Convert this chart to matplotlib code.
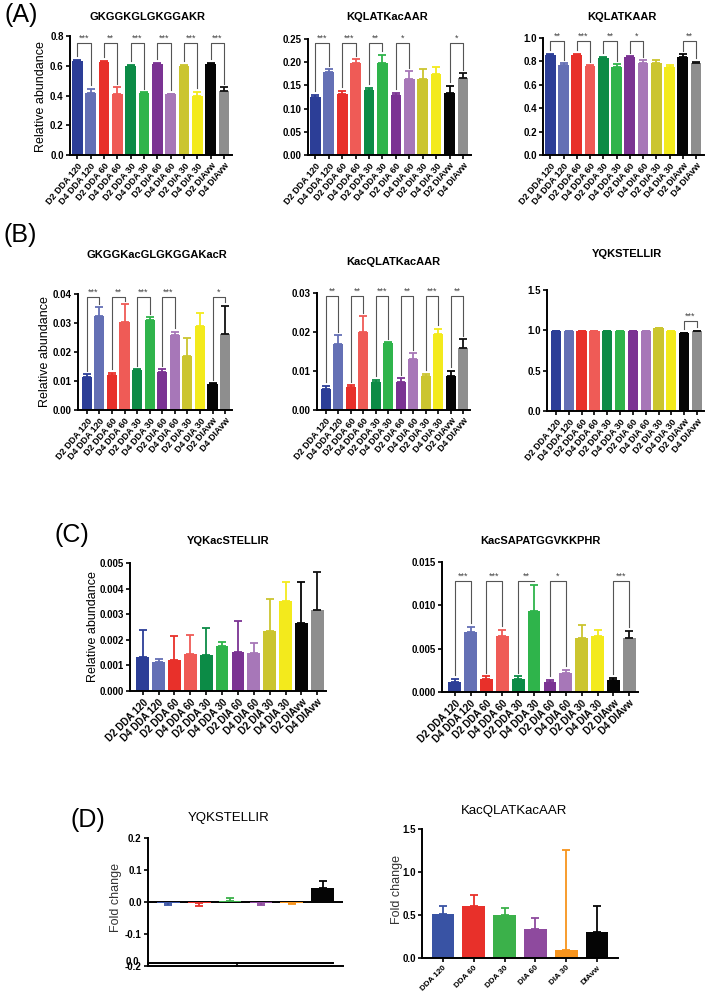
import matplotlib
matplotlib.use("Agg")
import matplotlib.pyplot as plt

plt.rcParams['font.family'] = ['Liberation Sans', 'DejaVu Sans']

# ---- data ----------------------------------------------------------------
samples = ["D2 DDA 120", "D4 DDA 120", "D2 DDA 60", "D4 DDA 60", "D2 DDA 30",
           "D4 DDA 30", "D2 DIA 60", "D4 DIA 60", "D2 DIA 30", "D4 DIA 30",
           "D2 DIAvw", "D4 DIAvw"]
methods = ["DDA 120", "DDA 60", "DDA 30", "DIA 60", "DIA 30", "DIAvw"]

a1_vals = [0.635, 0.42, 0.625, 0.41, 0.60, 0.42, 0.61, 0.41, 0.60, 0.395, 0.615, 0.43]
a1_sd = [0.005, 0.025, 0.01, 0.045, 0.005, 0.002, 0.01, 0.002, 0.005, 0.03, 0.005, 0.025]
a2_vals = [0.125, 0.178, 0.131, 0.199, 0.140, 0.199, 0.129, 0.163, 0.164, 0.174, 0.133, 0.165]
a2_sd = [0.005, 0.007, 0.007, 0.007, 0.005, 0.017, 0.005, 0.017, 0.022, 0.015, 0.016, 0.011]
a3_vals = [0.855, 0.77, 0.855, 0.76, 0.83, 0.755, 0.835, 0.79, 0.79, 0.755, 0.84, 0.79]
a3_sd = [0.01, 0.015, 0.01, 0.005, 0.01, 0.02, 0.008, 0.02, 0.02, 0.01, 0.02, 0.005]

b1_vals = [0.0115, 0.0325, 0.012, 0.0305, 0.0138, 0.031, 0.013, 0.026, 0.0185, 0.029, 0.009, 0.0263]
b1_sd = [0.0008, 0.003, 0.0008, 0.006, 0.0003, 0.001, 0.001, 0.001, 0.0065, 0.0043, 0.0003, 0.0097]
b2_vals = [0.0055, 0.017, 0.0059, 0.020, 0.0071, 0.0172, 0.0073, 0.013, 0.0086, 0.0194, 0.0088, 0.016]
b2_sd = [0.0007, 0.0022, 0.0005, 0.004, 0.0007, 0.0002, 0.0009, 0.0015, 0.0007, 0.0014, 0.0013, 0.0022]
b3_vals = [0.99, 0.99, 0.99, 0.99, 0.99, 0.99, 0.99, 0.99, 1.025, 0.99, 0.965, 0.99]
b3_sd = [0.005, 0.004, 0.005, 0.004, 0.005, 0.005, 0.004, 0.004, 0.003, 0.003, 0.005, 0.005]

c1_vals = [0.00132, 0.00112, 0.0012, 0.00143, 0.00141, 0.00174, 0.00152, 0.0015,
           0.00235, 0.00353, 0.00265, 0.00316]
c1_sd = [0.00107, 0.00013, 0.00093, 0.00077, 0.00104, 0.00016, 0.00123, 0.00038,
         0.00125, 0.00073, 0.0016, 0.0015]
c2_vals = [0.0012, 0.0069, 0.0015, 0.0065, 0.0015, 0.0094, 0.0011, 0.0022, 0.0062, 0.0065, 0.0014, 0.0062]
c2_sd = [0.0003, 0.0006, 0.0003, 0.0007, 0.0003, 0.003, 0.0003, 0.0003, 0.0015, 0.0006, 0.0002, 0.0008]

d1_vals = [-0.003, -0.003, 0.003, -0.003, -0.003, 0.045]
d1_sd = [0.007, 0.009, 0.009, 0.007, 0.002, 0.02]
d2_vals = [0.51, 0.60, 0.50, 0.34, 0.09, 0.30]
d2_sd = [0.09, 0.13, 0.08, 0.13, 1.17, 0.30]

a1_sig = [(0, 1, "***"), (2, 3, "**"), (4, 5, "***"), (6, 7, "***"), (8, 9, "***"), (10, 11, "***")]
a2_sig = [(0, 1, "***"), (2, 3, "***"), (4, 5, "**"), (6, 7, "*"), (10, 11, "*")]
a3_sig = [(0, 1, "**"), (2, 3, "***"), (4, 5, "**"), (6, 7, "*"), (10, 11, "**")]
b1_sig = [(0, 1, "***"), (2, 3, "**"), (4, 5, "***"), (6, 7, "***"), (10, 11, "*")]
b2_sig = [(0, 1, "**"), (2, 3, "**"), (4, 5, "***"), (6, 7, "**"), (8, 9, "***"), (10, 11, "**")]
b3_sig = [(10, 11, "***")]
c2_sig = [(0, 1, "***"), (2, 3, "***"), (4, 5, "**"), (6, 7, "*"), (10, 11, "***")]

colors12 = ["#2c3e97", "#6470b5", "#e8302a", "#ef5b56", "#0c8b46", "#2fb44b",
            "#7b3393", "#a777b8", "#cbc52f", "#f3ea1c", "#050505", "#8e8e8e"]
ecols12 = colors12[:11] + ["#111111"]
colors6 = ["#3953a4", "#e8302a", "#3bb14a", "#8e4a9e", "#f7941d", "#050505"]

W, H = 709, 993
fig = plt.figure(figsize=(W / 100, H / 100), dpi=100)


def px_axes(x0, y0, x1, y1):
    return fig.add_axes([x0 / W, 1 - y1 / H, (x1 - x0) / W, (y1 - y0) / H])


def ftext(x, y, s, **kw):
    fig.text(x / W, 1 - y / H, s, ha="center", va="center", **kw)


def bar_panel(ax, vals, sd, cols, ecols, ylim, yticks, yfmt, xlim, width=0.8,
              labels=None, lsize=6.5, rot=50, sig=None, sig_top=None):
    x = list(range(len(vals)))
    ax.bar(x, vals, width=width, color=cols, zorder=2)
    for i, (v, s) in enumerate(zip(vals, sd)):
        lo, hi = (s, 0) if v < 0 else (0, s)
        ax.errorbar(i, v, yerr=[[lo], [hi]], fmt="none", ecolor=ecols[i],
                    elinewidth=1.3, capsize=2.6, capthick=1.3, zorder=3)
    ax.set_xlim(*xlim)
    ax.set_ylim(*ylim)
    ax.set_yticks(yticks)
    ax.set_yticklabels([yfmt.format(t) for t in yticks], fontweight="bold", fontsize=7)
    if labels is not None:
        ax.set_xticks(x)
        ax.set_xticklabels(labels, rotation=rot, ha="right", rotation_mode="anchor",
                           fontweight="bold", fontsize=lsize)
    else:
        ax.set_xticks([])
    for side in ("top", "right"):
        ax.spines[side].set_visible(False)
    for side in ("left", "bottom"):
        ax.spines[side].set_linewidth(1.4)
    ax.tick_params(direction="out", length=3, width=1.2, pad=1.5)
    if sig:
        gap = 0.03 * ylim[1]
        for i, j, lab in sig:
            yi = vals[i] + sd[i] + gap
            yj = vals[j] + sd[j] + gap
            ax.plot([i, i, j, j], [yi, sig_top, sig_top, yj], color="#555555",
                    lw=0.8, clip_on=False, zorder=4)
            ax.text((i + j) / 2, sig_top, lab, ha="center", va="bottom",
                    fontsize=6.5, color="#444444", clip_on=False)


# ---- panel A ------------------------------------------------------------
ax = px_axes(70, 36, 232, 155)
bar_panel(ax, a1_vals, a1_sd, colors12, ecols12, (0, 0.8), [0, 0.2, 0.4, 0.6, 0.8],
          "{:.1f}", (-0.55, 11.6), labels=samples, sig=a1_sig, sig_top=0.755)
ax = px_axes(308, 39, 471, 155)
bar_panel(ax, a2_vals, a2_sd, colors12, ecols12, (0, 0.25),
          [0, 0.05, 0.10, 0.15, 0.20, 0.25], "{:.2f}", (-0.55, 11.6),
          labels=samples, sig=a2_sig, sig_top=0.241)
ax = px_axes(543, 38, 704, 155)
bar_panel(ax, a3_vals, a3_sd, colors12, ecols12, (0, 1.0), [0, 0.2, 0.4, 0.6, 0.8, 1.0],
          "{:.1f}", (-0.55, 11.6), labels=samples, sig=a3_sig, sig_top=0.975)

# ---- panel B ------------------------------------------------------------
ax = px_axes(78, 294, 232, 410)
bar_panel(ax, b1_vals, b1_sd, colors12, ecols12, (0, 0.04),
          [0, 0.01, 0.02, 0.03, 0.04], "{:.2f}", (-0.7, 11.55),
          labels=samples, sig=b1_sig, sig_top=0.039)
ax = px_axes(317, 293, 470, 410)
bar_panel(ax, b2_vals, b2_sd, colors12, ecols12, (0, 0.03),
          [0, 0.01, 0.02, 0.03], "{:.2f}", (-0.7, 11.55),
          labels=samples, sig=b2_sig, sig_top=0.0292)
ax = px_axes(547, 290, 704, 411)
bar_panel(ax, b3_vals, b3_sd, colors12, ecols12, (0, 1.5),
          [0, 0.5, 1.0, 1.5], "{:.1f}", (-0.7, 11.55),
          labels=samples, sig=b3_sig, sig_top=1.115)

# ---- panel C ------------------------------------------------------------
ax = px_axes(130, 563, 326, 691)
bar_panel(ax, c1_vals, c1_sd, colors12, ecols12, (0, 0.005),
          [0, 0.001, 0.002, 0.003, 0.004, 0.005], "{:.3f}", (-0.8, 11.55),
          labels=samples, lsize=7, rot=45)
ax = px_axes(442, 562, 638, 692)
bar_panel(ax, c2_vals, c2_sd, colors12, ecols12, (0, 0.015),
          [0, 0.005, 0.010, 0.015], "{:.3f}", (-0.8, 11.55),
          labels=samples, lsize=7, rot=45, sig=c2_sig, sig_top=0.0128)

# ---- panel D ------------------------------------------------------------
ax = px_axes(148, 838, 343, 966)
bar_panel(ax, d1_vals, d1_sd, colors6, colors6, (-0.2, 0.2),
          [-0.2, -0.1, 0.0, 0.1, 0.2], "{:.1f}", (-0.65, 5.65), width=0.74)
ax.axhline(0, color="black", lw=1.4, zorder=1)
# broken lower axis as in the original export
ax.plot([0, 0.95], [0.025, 0.025], transform=ax.transAxes, color="black",
        lw=1.4, clip_on=False)
ax.plot([0.455, 0.455], [0.025, 0.0], transform=ax.transAxes, color="black",
        lw=1.2, clip_on=False)
ax.text(-0.045, 0.035, "0.0", transform=ax.transAxes, ha="right", va="center",
        fontsize=7, fontweight="bold")

ax = px_axes(422, 829, 618, 958)
bar_panel(ax, d2_vals, d2_sd, colors6, colors6, (0, 1.5), [0, 0.5, 1.0, 1.5],
          "{:.1f}", (-0.68, 5.68), width=0.74, labels=methods, lsize=5.8, rot=45)

# ---- titles, axis labels, panel letters ---------------------------------
tkw = dict(fontsize=8, fontweight="bold")
ftext(147, 17, "GKGGKGLGKGGAKR", **tkw)
ftext(387, 17, "KQLATKacAAR", **tkw)
ftext(622, 17, "KQLATKAAR", **tkw)
ftext(157, 255, "GKGGKacGLGKGGAKacR", **tkw)
ftext(393, 262, "KacQLATKacAAR", **tkw)
ftext(627, 254, "YQKSTELLIR", **tkw)
ftext(228, 541, "YQKacSTELLIR", **tkw)
ftext(540, 541, "KacSAPATGGVKKPHR", **tkw)
ftext(229, 818, "YQKSTELLIR", fontsize=9.5)
ftext(514, 811, "KacQLATKacAAR", fontsize=9.5)

ykw = dict(fontsize=9, rotation=90)
ftext(41, 97, "Relative abundance", **ykw)
ftext(45, 352, "Relative abundance", **ykw)
ftext(93, 627, "Relative abundance", **ykw)
ftext(116, 897, "Fold change", color="#333333", **ykw)
ftext(397, 890, "Fold change", color="#333333", **ykw)

pkw = dict(fontsize=18)
ftext(21, 15, "(A)", **pkw)
ftext(20, 235, "(B)", **pkw)
ftext(72, 535, "(C)", **pkw)
ftext(88, 820, "(D)", **pkw)

fig.savefig("out.png", dpi=100, facecolor="white")
